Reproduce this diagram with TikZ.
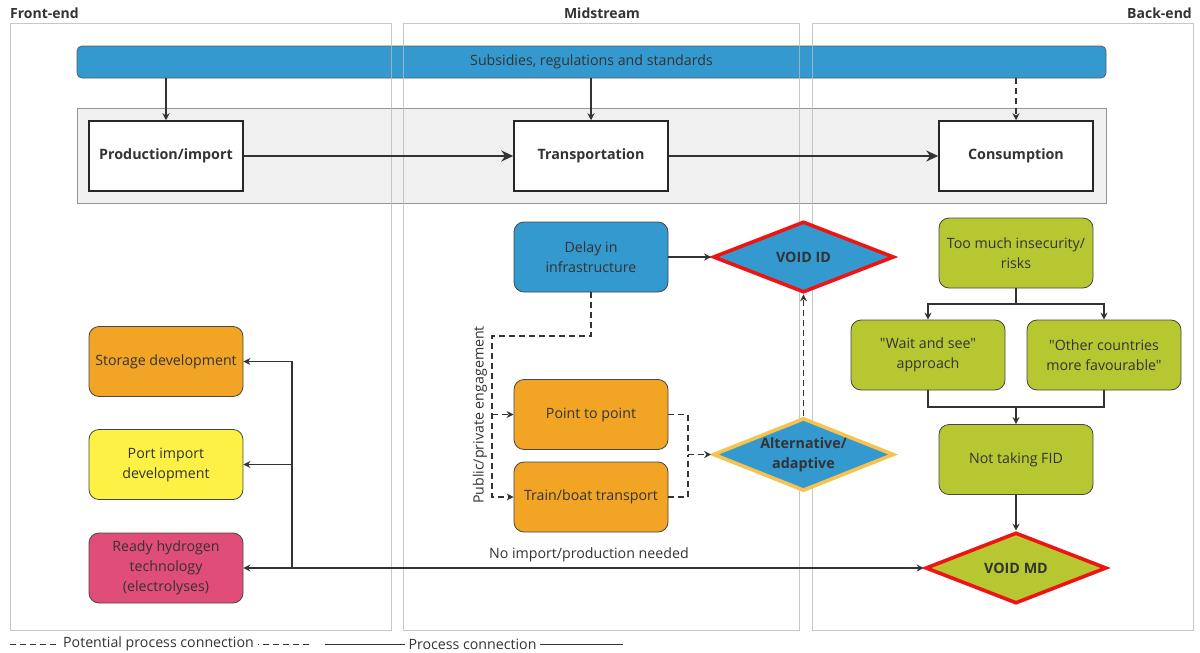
\documentclass[tikz,border=0pt]{standalone}
\usepackage{fontspec}
\setmainfont{Open Sans}[Ligatures=TeXOff]
\usetikzlibrary{shapes.geometric,arrows.meta}

\definecolor{ink}{RGB}{51,51,51}
\definecolor{lanegray}{RGB}{185,185,185}
\definecolor{bandfill}{RGB}{240,240,240}
\definecolor{bandline}{RGB}{150,150,150}
\definecolor{skyblue}{RGB}{52,153,206}
\definecolor{amber}{RGB}{242,165,36}
\definecolor{lemon}{RGB}{253,241,70}
\definecolor{rose}{RGB}{224,77,120}
\definecolor{olive}{RGB}{183,199,50}
\definecolor{alarm}{RGB}{238,20,20}
\definecolor{gold}{RGB}{247,195,80}

\tikzset{
  txt/.style={font=\fontsize{14.2}{20}\selectfont},
  lane/.style={draw=lanegray, line width=0.9pt},
  lanetitle/.style={font=\bfseries\fontsize{14}{16}\selectfont, text=ink, inner sep=0},
  stage/.style={draw=black!85, line width=1.5pt, fill=white, minimum width=154pt,
    minimum height=70pt, inner sep=0, font=\bfseries\fontsize{14.3}{17}\selectfont, text=ink},
  card/.style={draw=ink!90, line width=0.8pt, rounded corners=10pt, minimum width=154pt,
    minimum height=70pt, inner sep=0, align=center, text=ink, txt},
  gate/.style={diamond, minimum width=181pt, minimum height=71pt, inner sep=-12pt,
    line width=3.6pt, align=center, text=ink, font=\bfseries\fontsize{14.3}{20}\selectfont},
  conn/.style={draw=ink, line width=1.3pt},
  flow/.style={conn, -{Stealth[length=7pt,width=7pt]}},
  maybe/.style={conn, dash pattern=on 6pt off 4pt},
  maybeflow/.style={maybe, -{Stealth[length=7pt,width=7pt]}},
  mainflow/.style={draw=ink, line width=2.3pt, -{Stealth[length=12pt,width=11pt]}},
  legline/.style={draw=ink, line width=0.9pt},
}

\begin{document}
\begin{tikzpicture}[x=1pt,y=-1pt]
\useasboundingbox (0,0) rectangle (1200,653);

% policy bar and the process band
\fill[bandfill, draw=bandline, line width=0.9pt] (77,108) rectangle (1106,203);
\node[draw=ink!80, line width=0.8pt, fill=skyblue, rounded corners=5pt,
  minimum width=1029pt, minimum height=32pt, inner sep=0, text=ink, txt]
  (policy) at (591.5,62) {Subsidies, regulations and standards};

% swim lanes
\draw[lane, opacity=0.8] (10,23) rectangle (391,630);
\draw[lane, opacity=0.8] (403,23) rectangle (799,630);
\draw[lane, opacity=0.8] (812,23) rectangle (1193,630);
\node[lanetitle, anchor=base west] (tfront) at (10,19) {Front-end};
\node[lanetitle, anchor=base] (tmid) at (602,19) {Midstream};
\node[lanetitle, anchor=base east] (tback) at (1192,19) {Back-end};

% main process chain
\node[stage] (prod) at (166,156) {Production/import};
\node[stage] (trans) at (591,156) {Transportation};
\node[stage] (cons) at (1016,156) {Consumption};

\draw[flow] (policy.south -| prod.north) -- (prod.north);
\draw[flow] (policy.south -| trans.north) -- (trans.north);
\draw[maybeflow] (policy.south -| cons.north) -- (cons.north);
\draw[mainflow] (prod.east) -- (trans.west);
\draw[mainflow] (trans.east) -- (cons.west);

% front-end outcomes
\node[card, fill=amber] (storage) at (166,361.5) {Storage development};
\node[card, fill=lemon] (port) at (166,464.5) {Port import\\development};
\node[card, fill=rose] (ready) at (166,568) {Ready hydrogen\\technology\\(electrolyses)};

% midstream
\node[card, fill=skyblue] (delay) at (591,257) {Delay in\\infrastructure};
\node[card, fill=amber] (p2p) at (591,414.5) {Point to point};
\node[card, fill=amber] (train) at (591,497) {Train/boat transport};
\node[gate, draw=alarm, fill=skyblue] (vid) at (803.5,257) {VOID ID};
\node[gate, draw=gold, fill=skyblue] (alt) at (803.5,454.5) {Alternative/\\adaptive};

% back-end
\node[card, fill=olive] (risk) at (1016,253) {Too much insecurity/\\risks};
\node[card, fill=olive] (wait) at (928,355) {"Wait and see"\\approach};
\node[card, fill=olive] (other) at (1104,355) {"Other countries\\more favourable"};
\node[card, fill=olive] (fid) at (1016,459.5) {Not taking FID};
\node[gate, draw=alarm, fill=olive] (vmd) at (1016,568) {VOID MD};

% midstream connectors
\draw[flow] (delay.east) -- (vid.west);
\coordinate (eng) at (492,336);
\coordinate (engtop) at (eng |- p2p.west);
\draw[maybeflow] (delay.south) |- (eng) |- (train.west);
\draw[maybeflow] (engtop) -- (p2p.west);
\node[txt, text=ink, rotate=90, inner sep=0] (englabel) at (480,415) {Public/private engagement};
\coordinate (altin) at (688,454.5);
\draw[maybe] (p2p.east) -| (altin);
\draw[maybe] (train.east) -| (altin);
\draw[maybeflow] (altin) -- (alt.west);
\draw[maybeflow] (alt.north) -- (vid.south);

% back-end connectors
\coordinate (split) at (1016,304);
\coordinate (merge) at (1016,407);
\draw[conn] (risk.south) -- (split);
\draw[flow] (split) -| (wait.north);
\draw[flow] (split) -| (other.north);
\draw[conn] (wait.south) |- (merge);
\draw[conn] (other.south) |- (merge);
\draw[flow] (merge) -- (fid.north);
\draw[flow] (fid.south) -- (vmd.north);

% link between the market void and the front-end
\coordinate (hub) at (292,568);
\draw[flow] (hub) -- (vmd.west)
  node[pos=0.47, above=5pt, txt, text=ink, inner sep=0] (nolabel) {No import/production needed};
\draw[flow] (hub) -- (ready.east);
\draw[flow] (hub) |- (port.east);
\draw[flow] (hub) |- (storage.east);

% legend
\node[txt, text=ink, inner sep=0] (legdash) at (158.5,644) {Potential process connection};
\coordinate (ld1) at (10,644);
\coordinate (ld2) at (309,644);
\draw[legline, dash pattern=on 6pt off 4pt] (ld1) -- ([xshift=-4pt]legdash.west);
\draw[legline, dash pattern=on 6pt off 4pt] (ld2) -- ([xshift=4pt]legdash.east);
\node[txt, text=ink, inner sep=0] (legsolid) at (472.5,644) {Process connection};
\coordinate (ls1) at (325,644);
\coordinate (ls2) at (623,644);
\draw[legline] (ls1) -- ([xshift=-3pt]legsolid.west);
\draw[legline] ([xshift=3pt]legsolid.east) -- (ls2);
\end{tikzpicture}
\end{document}
